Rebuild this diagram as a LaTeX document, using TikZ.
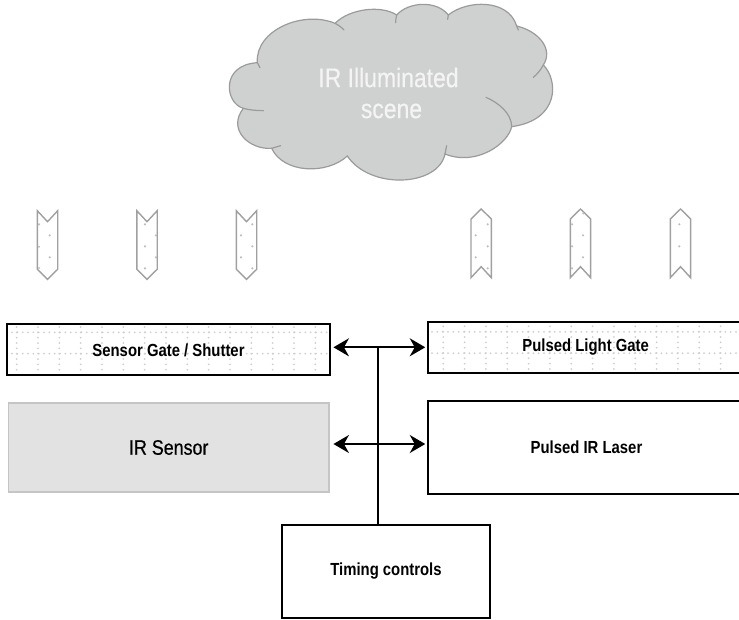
\documentclass[tikz,border=0pt]{standalone}
\usepackage{fontspec}
\setmainfont{Liberation Sans}[FakeStretch=0.85]
\newfontfamily\medfont{Liberation Sans}[FakeStretch=0.85,FakeBold=0.5]
\usetikzlibrary{arrows.meta,calc}
\definecolor{cloudfill}{HTML}{CFD1D0}
\definecolor{cloudline}{HTML}{9A9B9A}
\definecolor{griddot}{HTML}{D0D0D0}
\definecolor{chevdot}{HTML}{BEBEBE}
\definecolor{chevline}{HTML}{A0A0A0}
\definecolor{sensorfill}{HTML}{E2E2E2}
\definecolor{sensorline}{HTML}{C4C6C4}
\definecolor{labelgrey}{HTML}{F4F4F4}
\tikzset{
  blockbox/.style={draw=black,line width=1.5pt,fill=none,inner sep=0pt,font=\fontsize{17.5}{20}\selectfont\bfseries,text=black},
  sensorbox/.style={draw=sensorline,line width=1.5pt,fill=sensorfill,inner sep=0pt,font=\fontsize{21}{24}\medfont,text=black},
  sceneline/.style={draw=cloudline,line width=1.2pt,line cap=round},
  chevron/.style={draw=chevline,line width=1.4pt,line join=miter,fill=none},
  link/.style={draw=black,line width=1.7pt},
  biarrow/.style={link,{Stealth[length=15.5pt,width=18pt,inset=5pt]}-{Stealth[length=15.5pt,width=18pt,inset=5pt]}},
}
\newcommand{\griddots}[4]{%
  \foreach \k in {0,...,15}{\foreach \m in {0,...,11}{%
    \pgfmathsetmacro{\px}{#1+21.33*\k}%
    \pgfmathsetmacro{\py}{#2+5.333*\m}%
    \fill[griddot] (\px,\py) circle (1);}}%
  \foreach \k in {0,...,60}{\foreach \m in {0,1}{%
    \pgfmathsetmacro{\px}{#3+5.333*\k}%
    \pgfmathsetmacro{\py}{#4+21.33*\m}%
    \fill[griddot] (\px,\py) circle (1);}}%
}
\newcommand{\chevdots}[1]{\foreach \a/\b in {#1}{\fill[chevdot] (\a,\b) circle (1.2);}}
\begin{document}
\begin{tikzpicture}[x=1pt,y=-1pt]
\clip (0,0) rectangle (739,619);
\fill[white] (0,0) rectangle (739,619);
% cloud
\begin{scope}[shift={(200,0)},x=0.33333pt,y=-0.33333pt]
\path[fill=cloudfill,sceneline] (172,188)
  .. controls (165,90) and (310,30) .. (405,70)
  .. controls (450,25) and (545,15) .. (590,45)
  .. controls (625,5) and (710,0) .. (745,45)
  .. controls (800,0) and (925,-5) .. (950,78)
  .. controls (1020,95) and (1060,150) .. (1030,195)
  .. controls (1075,240) and (1080,360) .. (935,380)
  .. controls (925,430) and (830,500) .. (735,462)
  .. controls (715,560) and (510,570) .. (442,468)
  .. controls (380,525) and (250,520) .. (215,445)
  .. controls (150,450) and (80,390) .. (130,325)
  .. controls (75,310) and (60,195) .. (172,188) -- cycle;
\draw[sceneline] (405,70) .. controls (415,75) and (425,82) .. (432,90);
\draw[sceneline] (590,45) .. controls (588,52) and (587,60) .. (587,68);
\draw[sceneline] (745,45) -- (743,58);
\draw[sceneline] (950,78) -- (955,90);
\draw[sceneline] (1030,195) .. controls (1022,210) and (1012,222) .. (1000,232);
\draw[sceneline] (935,380) .. controls (935,340) and (895,308) .. (858,292);
\draw[sceneline] (735,462) -- (740,437);
\draw[sceneline] (215,445) -- (242,437);
\draw[sceneline] (130,325) .. controls (148,330) and (170,332) .. (190,332);
\draw[sceneline] (172,188) -- (180,203);
\end{scope}
\node[text=labelgrey,font=\fontsize{27}{31}\medfont,align=center,inner sep=0pt,anchor=center] (scene) at (388.5,93) {IR Illuminated\\\hspace*{6pt}scene};
% downward chevrons
\foreach \o in {0,99.5,199}{
  \draw[chevron] (37.3+\o,210.7) -- (47.5+\o,221.7) -- (57.7+\o,210.7) -- (57.7+\o,269.3) -- (47.5+\o,279.3) -- (37.3+\o,269.3) -- cycle;
}
\chevdots{39/224.3,39/246.7,39/268,49.7/235.3,49.7/257.3,
  145/224.3,145/246.3,145/268.3,156/235.3,156/257.3,
  252.3/224.3,252.3/246.3,252.3/268.3,241/235.3,241/257.3}
% upward chevrons
\foreach \o in {0,99.3,199.3}{
  \draw[chevron] (471+\o,219) -- (481.2+\o,209) -- (491.3+\o,219) -- (491.3+\o,277.7) -- (481.2+\o,266.7) -- (471+\o,277.7) -- cycle;
}
\chevdots{487.7/224.3,487.7/246.3,487.7/268.3,475.7/235.3,475.7/257.3,
  583.3/213.3,572/224.3,583/235.3,572/246.3,583/257.3,572/268.3,
  679.3/224.3,679.3/246.3}
% patterned gates
\begin{scope}
  \clip (7,324) rectangle (330,375);
  \griddots{16.7}{321.7}{6.7}{332.3}
\end{scope}
\begin{scope}
  \clip (428,322) rectangle (739,373);
  \griddots{443.3}{321}{432}{331.9}
\end{scope}
% boxes
\node[blockbox,minimum width=323pt,minimum height=51pt] (sgate) at (168.5,349.5) {};
\node[blockbox,draw=none] (sgatetext) at (168.5,350) {Sensor Gate / Shutter};
\node[blockbox,minimum width=317pt,minimum height=51pt] (pgate) at (586.5,347.5) {};
\node[blockbox,draw=none] (pgatetext) at (585.7,347) {Pulsed Light Gate};
\node[sensorbox,minimum width=320.5pt,minimum height=89pt] (sensor) at (168.75,447.5) {IR Sensor};
\node[blockbox,minimum width=317pt,minimum height=93pt] (laser) at (586.5,447.5) {Pulsed IR Laser};
\node[blockbox,minimum width=208pt,minimum height=93pt] (timing) at (386,571.5) {Timing controls};
% connectors
\coordinate (busa) at (378,347.3);
\coordinate (busb) at (378,444);
\draw[biarrow,shorten <=2.7pt,shorten >=2pt] (busa -| sgate.east) -- (busa -| pgate.west);
\draw[biarrow,shorten <=3.7pt,shorten >=2pt] (busb -| sensor.east) -- (busb -| laser.west);
\draw[link] (busa) -- (busa |- timing.north);
\end{tikzpicture}
\end{document}
